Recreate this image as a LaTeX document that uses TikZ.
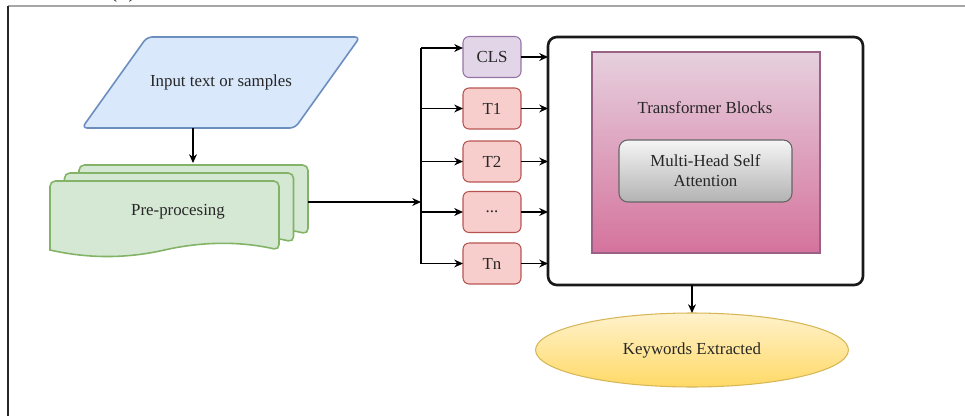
\documentclass[tikz,border=0pt]{standalone}
\usepackage{fontspec}
\setmainfont{Liberation Serif}
\usetikzlibrary{positioning,arrows.meta,shapes.geometric}
\definecolor{inpfill}{HTML}{DAE8FC}
\definecolor{inpline}{HTML}{6C8EBF}
\definecolor{docfill}{HTML}{D5E8D4}
\definecolor{docline}{HTML}{82B366}
\definecolor{clsfill}{HTML}{E1D5E7}
\definecolor{clsline}{HTML}{9673A6}
\definecolor{tokfill}{HTML}{F8CECC}
\definecolor{tokline}{HTML}{B85450}
\definecolor{blktop}{HTML}{E6D0DE}
\definecolor{blkbot}{HTML}{D5739D}
\definecolor{blkline}{HTML}{996185}
\definecolor{kwtop}{HTML}{FFF2CC}
\definecolor{kwbot}{HTML}{FFD966}
\definecolor{kwline}{HTML}{D6B656}

\begin{document}
\begin{tikzpicture}[
      x=0.02cm, y=-0.02cm,
      every node/.style={font=\fontsize{9.6}{11.5}\selectfont, text=black!85},
      >={Stealth[length=5pt,width=4.5pt]},
      inpbox/.style={minimum width=4.3cm, minimum height=1.82cm, outer sep=0pt},
      inpshape/.style={draw=inpline, fill=inpfill, line width=0.9pt, rounded corners=3pt},
      docbox/.style={draw=docline, fill=docfill, line width=0.9pt},
      tokbox/.style={draw=tokline, fill=tokfill, line width=0.6pt, rounded corners=3.5pt, minimum width=1.16cm, minimum height=0.82cm, outer sep=0pt},
      clsbox/.style={tokbox, draw=clsline, fill=clsfill},
      encbox/.style={draw=black!90, fill=white, line width=1.5pt, rounded corners=5pt, minimum width=6.3cm, minimum height=4.96cm, outer sep=0pt},
      blockbox/.style={draw=blkline, top color=blktop, bottom color=blkbot, line width=0.6pt, minimum width=4.56cm, minimum height=4.02cm},
      attbox/.style={draw=black!60, top color=black!4, bottom color=black!30, line width=0.6pt, rounded corners=5pt, minimum width=3.46cm, minimum height=1.24cm, align=center},
      kwbox/.style={ellipse, draw=kwline, top color=kwtop, bottom color=kwbot, line width=0.6pt, minimum width=6.26cm, minimum height=1.48cm, inner sep=0pt, outer sep=0pt}
    ]
      \useasboundingbox (0,0) rectangle (965,416);
      \clip (0,0) rectangle (965,416);

      % frame and cut caption
      \node[anchor=south, font=\fontsize{13}{15}\selectfont, inner sep=0pt] (cap) at (123,3) {(b)};
      \draw[gray!70, line width=0.8pt] (8,6) -- (965,6);
      \draw[black!85, line width=1.3pt] (8,6) -- (8,416);

      % input parallelogram
      \draw[inpshape] (82,128) -- (147,37) -- (360,37) -- (295,128) -- cycle;
      \node[inpbox] (inp) at (221,82.5) {Input text or samples};

      % stacked documents, back to front
      \foreach \dx/\dy in {29/-16, 14.5/-8, 0/0} {
        \draw[docbox] (50+\dx,250+\dy) [rounded corners=3pt]-- (50+\dx,181+\dy) -- (279+\dx,181+\dy) -- (279+\dx,250+\dy)
          [sharp corners] .. controls (240.8+\dx,241.3+\dy) and (202.7+\dx,241.3+\dy) .. (164.5+\dx,250+\dy)
          .. controls (126.3+\dx,258.7+\dy) and (88.2+\dx,258.7+\dy) .. (50+\dx,250+\dy) -- cycle;
      }
      \node (prep) at (178,212) {Pre-procesing};
      \coordinate (docin) at (193,163);
      \coordinate (docout) at (308,202);
      \draw[->, line width=0.7pt] (inp.south -| docin) -- (docin);

      % tokens
      \node[clsbox] (cls) at (492,57) {CLS};
      \node[tokbox] (t1) at (492,108.5) {T1};
      \node[tokbox] (t2) at (492,161.5) {T2};
      \node[tokbox] (tdots) at (492,212) {...};
      \node[tokbox] (tn) at (492,263.5) {Tn};

      % encoder
      \node[encbox] (enc) at (705.5,161) {};
      \node[blockbox] (tblock) at (706,152.5) {};
      \node (tblabel) at (705,108) {Transformer Blocks};
      \node[attbox] (mhsa) at (705.5,171) {Multi-Head Self\\Attention};

      % output
      \node[kwbox] (kw) at (692,350) {Keywords Extracted};

      % bus into the tokens
      \coordinate (bustop) at (421,48);
      \coordinate (busbot) at (421,263.5);
      \draw[line width=0.7pt] (bustop) -- (busbot);
      \draw[->, line width=0.7pt] (docout) -- (docout -| bustop);
      \draw[->, line width=0.7pt] (bustop) -- (bustop -| cls.west);
      \foreach \t in {t1,t2,tdots,tn}
        \draw[->, line width=0.7pt] (\t.west -| bustop) -- (\t.west);
      \foreach \t in {cls,t1,t2,tdots,tn}
        \draw[->, line width=0.7pt] (\t.east) -- (\t.east -| enc.west);

      \draw[->, line width=0.7pt] (kw.north |- enc.south) -- (kw.north);
    \end{tikzpicture}
\end{document}
